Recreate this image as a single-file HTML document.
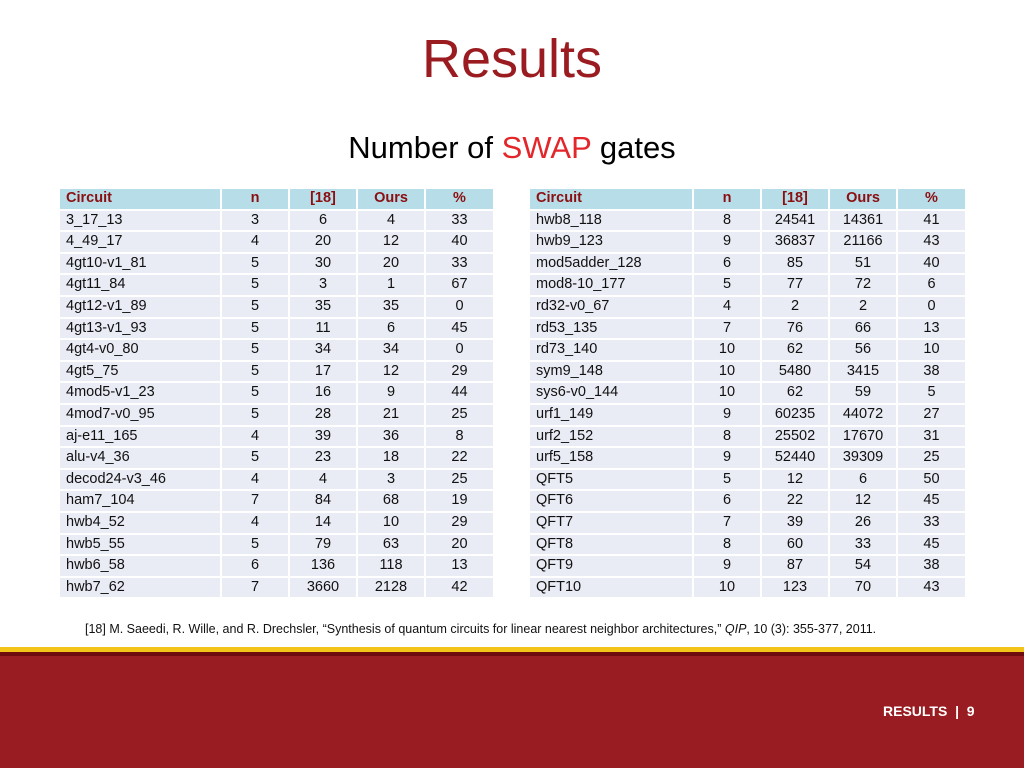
<!DOCTYPE html>
<html><head><meta charset="utf-8">
<style>
body{margin:0;width:1024px;height:768px;position:relative;overflow:hidden;background:#fff;font-family:"Liberation Sans",sans-serif}
#title{position:absolute;top:28px;left:0;width:1024px;text-align:center;font-size:54px;color:#9a1c20}
#sub{position:absolute;top:130px;left:0;width:1024px;text-align:center;font-size:31px;color:#000}
#sub span{color:#e3262a}
table{position:absolute;border-collapse:separate;border-spacing:2px;font-size:14.5px;table-layout:fixed}
td,th{padding:0 6px;height:19.6px;line-height:19.6px;background:#e9ebf5;text-align:center;color:#111;white-space:nowrap}
th{background:#b7dde8;color:#8b0e10;font-weight:bold}
td:first-child,th:first-child{text-align:left}
#ref{position:absolute;top:622px;left:85px;font-size:12.5px;color:#111}
#y1{position:absolute;top:647px;left:0;width:1024px;height:5px;background:#f2c318}
#y2{position:absolute;top:652px;left:0;width:1024px;height:4px;background:#6e0b0e}
#band{position:absolute;top:656px;left:0;width:1024px;height:112px;background:#981c21}
#foot{position:absolute;top:703px;left:883px;color:#fff;font-weight:bold;font-size:14px}
</style></head><body>
<div id="title">Results</div>
<div id="sub">Number of <span>SWAP</span> gates</div>
<table id="t1" style="left:58px;top:187px"><colgroup><col style="width:160px"><col style="width:66px"><col style="width:66px"><col style="width:66px"><col style="width:67px"></colgroup></table>
<table id="t2" style="left:528px;top:187px"><colgroup><col style="width:162px"><col style="width:66px"><col style="width:66px"><col style="width:66px"><col style="width:67px"></colgroup></table>
<div id="ref">[18] M. Saeedi, R. Wille, and R. Drechsler, “Synthesis of quantum circuits for linear nearest neighbor architectures,” <i>QIP</i>, 10 (3): 355-377, 2011.</div>
<div id="y1"></div>
<div id="y2"></div>
<div id="band"></div>
<div id="foot">RESULTS &nbsp;|&nbsp; 9</div>
<script>
const headers=["Circuit","n","[18]","Ours","%"];
const leftRows=[["3_17_13",3,6,4,33],["4_49_17",4,20,12,40],["4gt10-v1_81",5,30,20,33],["4gt11_84",5,3,1,67],["4gt12-v1_89",5,35,35,0],["4gt13-v1_93",5,11,6,45],["4gt4-v0_80",5,34,34,0],["4gt5_75",5,17,12,29],["4mod5-v1_23",5,16,9,44],["4mod7-v0_95",5,28,21,25],["aj-e11_165",4,39,36,8],["alu-v4_36",5,23,18,22],["decod24-v3_46",4,4,3,25],["ham7_104",7,84,68,19],["hwb4_52",4,14,10,29],["hwb5_55",5,79,63,20],["hwb6_58",6,136,118,13],["hwb7_62",7,3660,2128,42]];
const rightRows=[["hwb8_118",8,24541,14361,41],["hwb9_123",9,36837,21166,43],["mod5adder_128",6,85,51,40],["mod8-10_177",5,77,72,6],["rd32-v0_67",4,2,2,0],["rd53_135",7,76,66,13],["rd73_140",10,62,56,10],["sym9_148",10,5480,3415,38],["sys6-v0_144",10,62,59,5],["urf1_149",9,60235,44072,27],["urf2_152",8,25502,17670,31],["urf5_158",9,52440,39309,25],["QFT5",5,12,6,50],["QFT6",6,22,12,45],["QFT7",7,39,26,33],["QFT8",8,60,33,45],["QFT9",9,87,54,38],["QFT10",10,123,70,43]];
function fill(t,rows){
  const hr=document.createElement('tr');
  
  
  headers.forEach(h=>{const th=document.createElement('th');th.textContent=h;
    
    
    hr.appendChild(th);});
  t.appendChild(hr);
  rows.forEach(r=>{const tr=document.createElement('tr');
    
    
    r.forEach(v=>{const td=document.createElement('td');td.textContent=v;
      
      
      tr.appendChild(td);});
    t.appendChild(tr);});
}
fill(document.getElementById('t1'),leftRows);
fill(document.getElementById('t2'),rightRows);
</script>
</body></html>
